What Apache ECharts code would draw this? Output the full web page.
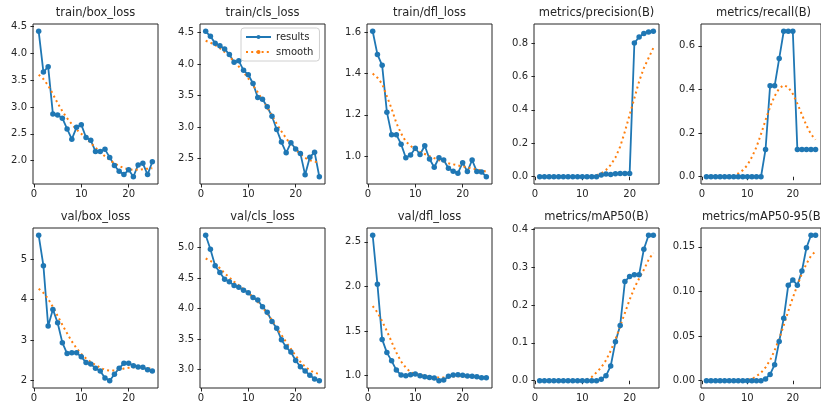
<!DOCTYPE html>
<html>
<head>
<meta charset="utf-8">
<script src="https://cdn.jsdelivr.net/npm/echarts@6/dist/echarts.min.js"></script>
<style>
html, body { margin: 0; padding: 0; background: #fff; }
#chart { width: 821px; height: 406px; }
</style>
</head>
<body>
<div id="chart"></div>
<script>
// epochs shared by every panel
const epochs = [1, 2, 3, 4, 5, 6, 7, 8, 9, 10, 11, 12, 13, 14, 15, 16, 17, 18, 19, 20, 21, 22, 23, 24, 25];

const titles = [
  'train/box_loss', 'train/cls_loss', 'train/dfl_loss', 'metrics/precision(B)', 'metrics/recall(B)',
  'val/box_loss', 'val/cls_loss', 'val/dfl_loss', 'metrics/mAP50(B)', 'metrics/mAP50-95(B)'
];

// top row
const trainBox = [4.41, 3.65, 3.75, 2.87, 2.85, 2.79, 2.59, 2.40, 2.62, 2.67, 2.43, 2.38, 2.17, 2.17, 2.21, 2.06, 1.91, 1.80, 1.74, 1.83, 1.70, 1.92, 1.95, 1.74, 1.98];
const trainBoxSmooth = [3.60, 3.52, 3.40, 3.24, 3.07, 2.92, 2.79, 2.68, 2.58, 2.50, 2.42, 2.33, 2.24, 2.16, 2.08, 2.01, 1.95, 1.90, 1.86, 1.84, 1.83, 1.83, 1.84, 1.85, 1.86];
const trainCls = [4.52, 4.44, 4.33, 4.29, 4.24, 4.15, 4.03, 4.05, 3.90, 3.83, 3.69, 3.47, 3.44, 3.32, 3.17, 2.96, 2.76, 2.59, 2.75, 2.65, 2.58, 2.24, 2.52, 2.60, 2.21];
const trainClsSmooth = [4.37, 4.34, 4.30, 4.25, 4.19, 4.12, 4.04, 3.96, 3.87, 3.77, 3.66, 3.55, 3.43, 3.31, 3.18, 3.05, 2.93, 2.82, 2.72, 2.64, 2.57, 2.51, 2.47, 2.45, 2.44];
const trainDfl = [1.605, 1.493, 1.440, 1.213, 1.104, 1.104, 1.058, 0.992, 1.005, 1.038, 1.008, 1.050, 0.986, 0.946, 0.992, 0.981, 0.941, 0.926, 0.917, 0.968, 0.925, 0.981, 0.925, 0.923, 0.900];
const trainDflSmooth = [1.40, 1.38, 1.35, 1.29, 1.23, 1.16, 1.11, 1.07, 1.05, 1.03, 1.02, 1.01, 1.00, 0.99, 0.98, 0.975, 0.965, 0.96, 0.955, 0.95, 0.945, 0.94, 0.935, 0.93, 0.925];
const precision = [0, 0, 0, 0, 0, 0, 0, 0, 0, 0, 0, 0, 0, 0.010, 0.016, 0.014, 0.018, 0.020, 0.020, 0.020, 0.800, 0.836, 0.857, 0.866, 0.870];
const precisionSmooth = [0, 0, 0, 0, 0, 0, 0, 0, 0, 0, 0.001, 0.003, 0.008, 0.02, 0.04, 0.07, 0.115, 0.18, 0.27, 0.37, 0.47, 0.57, 0.65, 0.71, 0.77];
const recall = [0, 0, 0, 0, 0, 0, 0, 0, 0, 0, 0, 0, 0, 0.125, 0.417, 0.417, 0.542, 0.667, 0.667, 0.667, 0.125, 0.125, 0.125, 0.125, 0.125];
const recallSmooth = [0, 0, 0, 0, 0, 0.002, 0.006, 0.015, 0.03, 0.053, 0.09, 0.136, 0.195, 0.26, 0.32, 0.37, 0.405, 0.42, 0.41, 0.38, 0.335, 0.285, 0.235, 0.195, 0.17];

// bottom row
const valBox = [5.59, 4.84, 3.35, 3.76, 3.43, 2.94, 2.67, 2.69, 2.69, 2.59, 2.45, 2.41, 2.31, 2.24, 2.07, 2.00, 2.16, 2.31, 2.43, 2.43, 2.37, 2.34, 2.33, 2.27, 2.24];
const valBoxSmooth = [4.27, 4.17, 4.02, 3.82, 3.60, 3.38, 3.17, 2.97, 2.80, 2.66, 2.55, 2.46, 2.39, 2.32, 2.27, 2.25, 2.25, 2.27, 2.30, 2.32, 2.33, 2.33, 2.32, 2.31, 2.30];
const valCls = [5.20, 4.97, 4.70, 4.59, 4.48, 4.44, 4.38, 4.35, 4.30, 4.26, 4.18, 4.14, 4.03, 3.94, 3.79, 3.68, 3.49, 3.37, 3.29, 3.15, 3.05, 2.98, 2.91, 2.85, 2.82];
const valClsSmooth = [4.82, 4.78, 4.73, 4.66, 4.58, 4.51, 4.44, 4.38, 4.32, 4.26, 4.19, 4.11, 4.02, 3.92, 3.81, 3.69, 3.57, 3.45, 3.34, 3.23, 3.13, 3.05, 2.99, 2.95, 2.93];
const valDfl = [2.574, 2.026, 1.407, 1.259, 1.167, 1.063, 1.007, 1.000, 1.011, 1.019, 1.000, 0.989, 0.981, 0.974, 0.944, 0.952, 0.993, 1.007, 1.011, 1.004, 0.996, 0.993, 0.989, 0.978, 0.978];
const valDflSmooth = [1.78, 1.71, 1.61, 1.50, 1.38, 1.26, 1.16, 1.09, 1.04, 1.02, 1.01, 0.995, 0.985, 0.98, 0.98, 0.98, 0.985, 0.99, 0.995, 0.995, 0.995, 0.99, 0.985, 0.982, 0.98];
const mAP50 = [0, 0, 0, 0, 0, 0, 0, 0, 0, 0, 0, 0, 0, 0.004, 0.013, 0.039, 0.103, 0.146, 0.262, 0.275, 0.280, 0.280, 0.347, 0.384, 0.384];
const mAP50Smooth = [0, 0, 0, 0, 0, 0, 0, 0, 0, 0.001, 0.004, 0.01, 0.022, 0.035, 0.054, 0.079, 0.109, 0.144, 0.179, 0.214, 0.245, 0.27, 0.293, 0.319, 0.338];
const mAP5095 = [0, 0, 0, 0, 0, 0, 0, 0, 0, 0, 0, 0, 0, 0.002, 0.007, 0.018, 0.044, 0.070, 0.107, 0.113, 0.107, 0.123, 0.149, 0.163, 0.163];
const mAP5095Smooth = [0, 0, 0, 0, 0, 0, 0, 0, 0, 0.001, 0.002, 0.005, 0.009, 0.015, 0.023, 0.034, 0.047, 0.062, 0.078, 0.093, 0.107, 0.12, 0.131, 0.14, 0.145];

const results = [trainBox, trainCls, trainDfl, precision, recall, valBox, valCls, valDfl, mAP50, mAP5095];
const smooth = [trainBoxSmooth, trainClsSmooth, trainDflSmooth, precisionSmooth, recallSmooth,
  valBoxSmooth, valClsSmooth, valDflSmooth, mAP50Smooth, mAP5095Smooth];

// tick labels
const xTicks = ['0', '10', '20'];
const yTicks = [
  ['2.0', '2.5', '3.0', '3.5', '4.0', '4.5'],
  ['2.5', '3.0', '3.5', '4.0', '4.5'],
  ['1.0', '1.2', '1.4', '1.6'],
  ['0.0', '0.2', '0.4', '0.6', '0.8'],
  ['0.0', '0.2', '0.4', '0.6'],
  ['2', '3', '4', '5'],
  ['3.0', '3.5', '4.0', '4.5', '5.0'],
  ['1.0', '1.5', '2.0', '2.5'],
  ['0.0', '0.1', '0.2', '0.3', '0.4'],
  ['0.00', '0.05', '0.10', '0.15']
];

const BLUE = '#1f77b4';
const ORANGE = '#ff7f0e';
const FONT = 'DejaVu Sans';
const colLeft = [33, 200, 367, 534, 701];
const rowTop = [24, 228];
const W = 125, H = 160;

// matplotlib-like 5% margins
const padMin = v => v.min - 0.05 * (v.max - v.min);
const padMax = v => v.max + 0.05 * (v.max - v.min);

const grid = [], xAxis = [], yAxis = [], series = [], graphic = [];

for (let i = 0; i < 10; i++) {
  const left = colLeft[i % 5];
  const top = rowTop[Math.floor(i / 5)];
  grid.push({
    left: left, top: top, width: W, height: H,
    show: true, borderColor: '#262626', borderWidth: 1, containLabel: false
  });
  xAxis.push({
    type: 'value', gridIndex: i, min: padMin, max: padMax,
    axisLine: { show: false },
    axisTick: { show: true, length: 3.5, lineStyle: { color: '#262626' }, customValues: xTicks.map(Number) },
    axisLabel: { color: '#262626', fontFamily: FONT, fontSize: 10, margin: 5, customValues: xTicks.map(Number) },
    splitLine: { show: false }
  });
  const ticks = yTicks[i];
  yAxis.push({
    type: 'value', gridIndex: i, min: padMin, max: padMax, scale: true,
    axisLine: { show: false },
    axisTick: { show: true, length: 3.5, lineStyle: { color: '#262626' }, customValues: ticks.map(Number) },
    axisLabel: {
      color: '#262626', fontFamily: FONT, fontSize: 10, margin: 6,
      customValues: ticks.map(Number),
      formatter: v => ticks.find(t => Math.abs(Number(t) - v) < 1e-9) || ''
    },
    splitLine: { show: false }
  });
  series.push({
    name: 'results', type: 'line', xAxisIndex: i, yAxisIndex: i,
    data: epochs.map((e, k) => [e, results[i][k]]),
    symbol: 'circle', symbolSize: 5.5, showSymbol: true,
    itemStyle: { color: BLUE }, lineStyle: { color: BLUE, width: 1.8 }
  });
  series.push({
    name: 'smooth', type: 'line', xAxisIndex: i, yAxisIndex: i,
    data: epochs.map((e, k) => [e, smooth[i][k]]),
    symbol: 'none', showSymbol: false,
    itemStyle: { color: ORANGE }, lineStyle: { color: ORANGE, width: 2, type: [2, 3.2], cap: 'butt' }
  });
  graphic.push({
    type: 'text', x: left + W / 2, y: top - 11,
    style: { text: titles[i], fill: '#262626', font: '11.5px "DejaVu Sans"', textAlign: 'center', textVerticalAlign: 'middle' }
  });
}

const chart = echarts.init(document.getElementById('chart'));
chart.setOption({
  animation: false,
  backgroundColor: '#fff',
  grid, xAxis, yAxis, series, graphic,
  legend: {
    data: ['results', 'smooth'],
    orient: 'vertical', left: 241, top: 28,
    itemWidth: 25, itemHeight: 5, itemGap: 5,
    padding: [4, 6, 4, 4],
    borderColor: '#d0d0d0', borderWidth: 1, borderRadius: 3,
    backgroundColor: 'rgba(255,255,255,0.8)',
    textStyle: { color: '#262626', fontFamily: FONT, fontSize: 10 }
  }
});
</script>
</body>
</html>
